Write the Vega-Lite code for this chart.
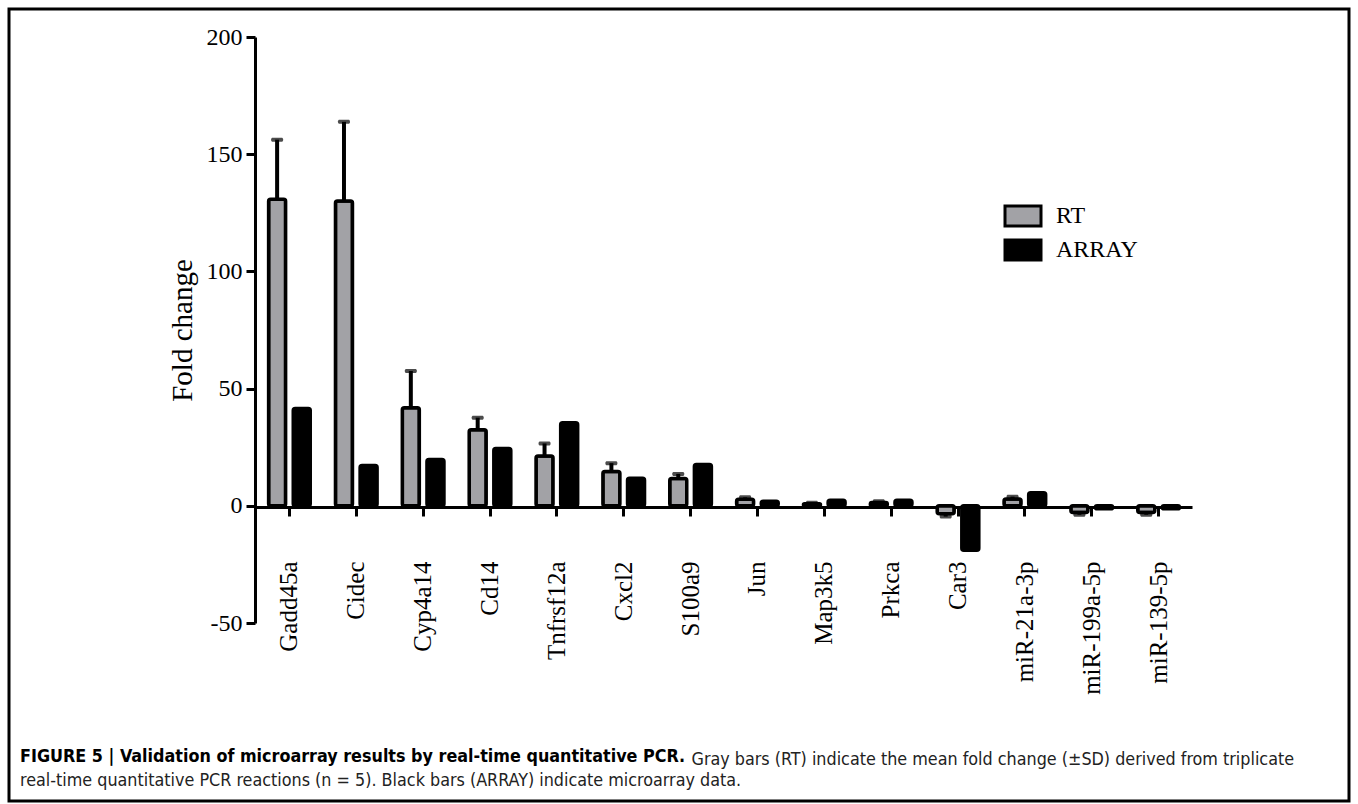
{
  "$schema": "https://vega.github.io/schema/vega-lite/v6.json",
  "width": 1340,
  "height": 792,
  "autosize": {"type": "none"},
  "padding": {"left": 9, "top": 9, "right": 9, "bottom": 3},
  "background": "white",
  "config": {"view": {"stroke": "black", "strokeWidth": 3}, "font": "Liberation Serif"},
  "title": {
    "text": "FIGURE 5 | Validation of microarray results by real-time quantitative PCR.",
    "subtitle": "real-time quantitative PCR reactions (n = 5). Black bars (ARRAY) indicate microarray data.",
    "orient": "bottom",
    "offset": -53,
    "anchor": "start",
    "frame": "group",
    "dx": 11,
    "font": "DejaVu Sans Condensed, Liberation Sans Narrow, Arial Narrow, Liberation Sans, sans-serif",
    "fontSize": 17.8,
    "fontWeight": "bold",
    "color": "black",
    "subtitleFont": "DejaVu Sans Condensed, Liberation Sans Narrow, Arial Narrow, Liberation Sans, sans-serif",
    "subtitleFontSize": 17.8,
    "subtitleColor": "#222222",
    "subtitlePadding": 6
  },
  "data": {
    "values": [
      {"gene": "Gadd45a", "series": "RT", "value": 130.8, "upper": 156.2},
      {"gene": "Gadd45a", "series": "ARRAY", "value": 41.5},
      {"gene": "Cidec", "series": "RT", "value": 130.0, "upper": 163.8},
      {"gene": "Cidec", "series": "ARRAY", "value": 17.2},
      {"gene": "Cyp4a14", "series": "RT", "value": 41.8, "upper": 57.5},
      {"gene": "Cyp4a14", "series": "ARRAY", "value": 19.8},
      {"gene": "Cd14", "series": "RT", "value": 32.4, "upper": 37.6},
      {"gene": "Cd14", "series": "ARRAY", "value": 24.4},
      {"gene": "Tnfrsf12a", "series": "RT", "value": 21.2, "upper": 26.6},
      {"gene": "Tnfrsf12a", "series": "ARRAY", "value": 35.4},
      {"gene": "Cxcl2", "series": "RT", "value": 14.6, "upper": 18.2},
      {"gene": "Cxcl2", "series": "ARRAY", "value": 11.8},
      {"gene": "S100a9", "series": "RT", "value": 11.6, "upper": 13.6},
      {"gene": "S100a9", "series": "ARRAY", "value": 17.6},
      {"gene": "Jun", "series": "RT", "value": 2.8, "upper": 3.6},
      {"gene": "Jun", "series": "ARRAY", "value": 1.9},
      {"gene": "Map3k5", "series": "RT", "value": 0.9, "upper": 1.3},
      {"gene": "Map3k5", "series": "ARRAY", "value": 2.4},
      {"gene": "Prkca", "series": "RT", "value": 1.4, "upper": 1.9},
      {"gene": "Prkca", "series": "ARRAY", "value": 2.4},
      {"gene": "Car3", "series": "RT", "value": -3.4, "upper": -4.6},
      {"gene": "Car3", "series": "ARRAY", "value": -19.0},
      {"gene": "miR-21a-3p", "series": "RT", "value": 2.9, "upper": 3.9},
      {"gene": "miR-21a-3p", "series": "ARRAY", "value": 5.6},
      {"gene": "miR-199a-5p", "series": "RT", "value": -2.9, "upper": -3.8},
      {"gene": "miR-199a-5p", "series": "ARRAY", "value": -1.3},
      {"gene": "miR-139-5p", "series": "RT", "value": -2.9, "upper": -3.8},
      {"gene": "miR-139-5p", "series": "ARRAY", "value": -1.3}
    ]
  },
  "encoding": {
    "x": {
      "field": "gene",
      "type": "nominal",
      "sort": null,
      "scale": {"range": [247, 1183], "paddingInner": 0.3, "paddingOuter": 0.15},
      "axis": {
        "orient": "bottom",
        "offset": -294,
        "domainColor": "black",
        "domainWidth": 3,
        "tickColor": "black",
        "tickWidth": 3,
        "tickSize": 9,
        "labelAngle": -90,
        "labelAlign": "right",
        "labelBaseline": "middle",
        "labelFont": "Liberation Serif",
        "labelFontSize": 25,
        "labelColor": "black",
        "labelPadding": 45,
        "labelOverlap": false,
        "title": "Gray bars (RT) indicate the mean fold change (±SD) derived from triplicate",
        "titleFont": "DejaVu Sans Condensed, Liberation Sans Narrow, Arial Narrow, Liberation Sans, sans-serif",
        "titleFontSize": 17.8,
        "titleFontWeight": "normal",
        "titleColor": "#222222",
        "titleAlign": "left",
        "titleBaseline": "alphabetic",
        "titleX": 682,
        "titleY": 257
      }
    },
    "xOffset": {
      "field": "series",
      "type": "nominal",
      "sort": ["RT", "ARRAY"],
      "scale": {"paddingInner": 0.1, "paddingOuter": 0}
    }
  },
  "layer": [
    {
      "transform": [{"filter": "datum.upper != null"}],
      "mark": {"type": "rule", "strokeWidth": 4, "color": "black"},
      "encoding": {
        "y": {"field": "value", "type": "quantitative", "title": "Fold change"},
        "y2": {"field": "upper"}
      }
    },
    {
      "transform": [{"filter": "datum.upper != null"}],
      "mark": {"type": "tick", "size": 12, "thickness": 4, "color": "black", "cornerRadius": 1.5},
      "encoding": {
        "y": {"field": "upper", "type": "quantitative", "title": "Fold change"}
      }
    },
    {
      "mark": {"type": "bar", "width": 17, "stroke": "black", "strokeWidth": 3.5, "cornerRadius": 2},
      "encoding": {
        "y": {
          "field": "value",
          "type": "quantitative",
          "title": "Fold change",
          "scale": {"domain": [-50, 200], "range": [614, 28], "nice": false, "zero": false},
          "axis": {
            "orient": "left",
            "offset": -246,
            "values": [-50, 0, 50, 100, 150, 200],
            "labelExpr": "datum.value < 0 ? '-' + abs(datum.value) : datum.label",
            "grid": false,
            "domainColor": "black",
            "domainWidth": 3,
            "tickColor": "black",
            "tickWidth": 3,
            "tickSize": 9,
            "labelFont": "Liberation Serif",
            "labelFontSize": 24,
            "labelColor": "black",
            "labelPadding": 4,
            "titleFont": "Liberation Serif",
            "titleFontSize": 29,
            "titleFontWeight": "normal",
            "titleColor": "black",
            "titleX": -73,
            "titleBaseline": "middle"
          }
        },
        "fill": {
          "field": "series",
          "type": "nominal",
          "sort": ["RT", "ARRAY"],
          "scale": {"domain": ["RT", "ARRAY"], "range": ["#a2a2a6", "#000000"]},
          "legend": {
            "orient": "none",
            "legendX": 1002,
            "legendY": 195,
            "title": null,
            "padding": 0,
            "symbolType": "M-1.8,-1H1.8V1H-1.8Z",
            "symbolSize": 400,
            "symbolStrokeColor": "black",
            "symbolStrokeWidth": 3,
            "symbolOpacity": 1,
            "labelFont": "Liberation Serif",
            "labelFontSize": 24,
            "labelColor": "black",
            "labelOffset": 21,
            "rowPadding": 2
          }
        }
      }
    }
  ]
}
